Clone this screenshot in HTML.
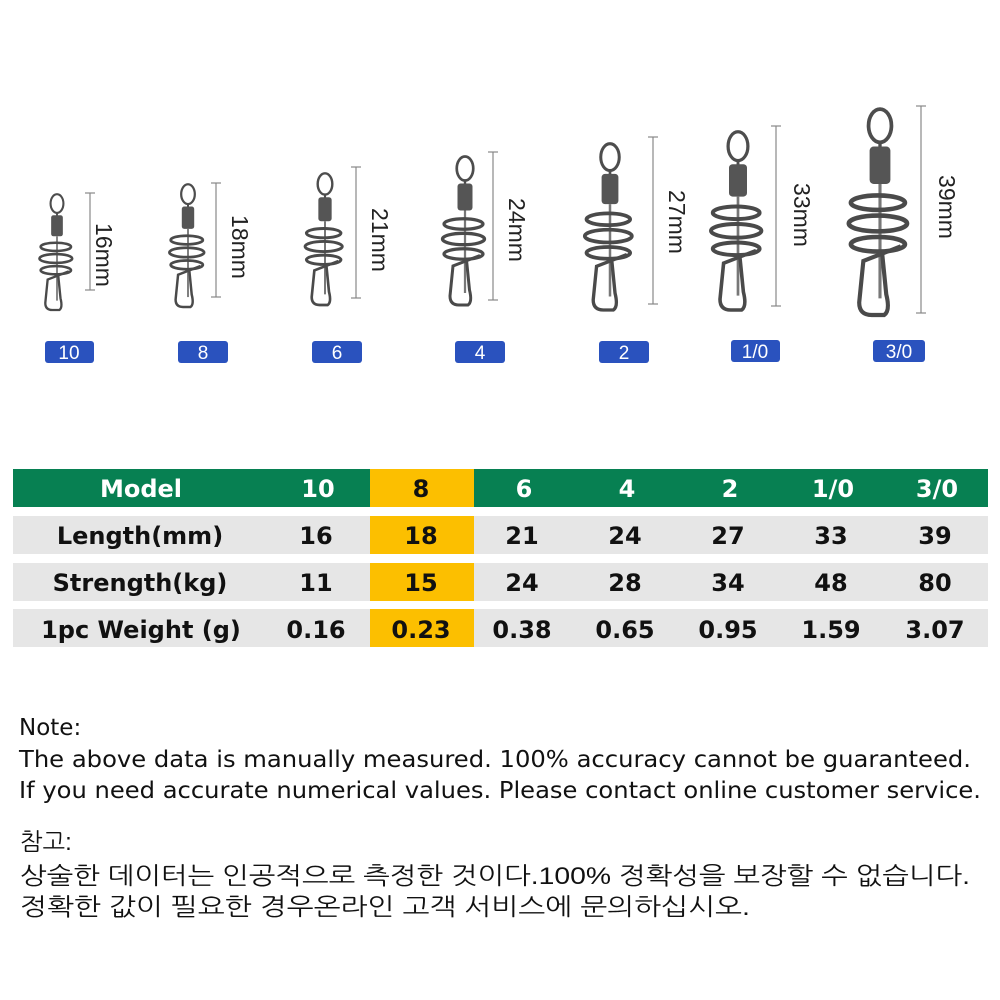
<!DOCTYPE html>
<html><head><meta charset="utf-8"><style>
body{margin:0;background:#fff;width:1000px;height:1000px;overflow:hidden}
svg{display:block}
</style></head><body>
<svg width="1000" height="1000" viewBox="0 0 1000 1000" xmlns="http://www.w3.org/2000/svg">
<defs>
<g id="sw">
  <ellipse cx="0" cy="9" rx="5.5" ry="8" fill="none" stroke="#4d4d4d" stroke-width="1.8"/>
  <line x1="0" y1="17" x2="0" y2="20" stroke="#4d4d4d" stroke-width="1.6"/>
  <rect x="-5" y="19" width="10" height="18" rx="2" fill="#555"/>
  <line x1="0" y1="37" x2="0" y2="92" stroke="#777" stroke-width="1.5"/>
  <ellipse cx="-1" cy="46" rx="13" ry="3.5" fill="none" stroke="#4a4a4a" stroke-width="2.2"/>
  <ellipse cx="-1" cy="56" rx="14" ry="3.8" fill="none" stroke="#4a4a4a" stroke-width="2.2"/>
  <ellipse cx="-1" cy="66" rx="13" ry="3.5" fill="none" stroke="#4a4a4a" stroke-width="2.2"/>
  <path d="M 10 67 L -8 74 L -10 94 Q -10 100 -4 100 L 2 100 Q 5 98 3 90 L 1 70" fill="none" stroke="#4a4a4a" stroke-width="2"/>
</g>
</defs>
<g font-family="Liberation Sans, sans-serif">
<use href="#sw" transform="translate(57,193) scale(1.17)"/>
<use href="#sw" transform="translate(188,183) scale(1.24)"/>
<use href="#sw" transform="translate(325,172) scale(1.33)"/>
<use href="#sw" transform="translate(465,155) scale(1.5)"/>
<use href="#sw" transform="translate(610,142) scale(1.68)"/>
<use href="#sw" transform="translate(738,130) scale(1.8)"/>
<use href="#sw" transform="translate(880,107) scale(2.08)"/>
<g stroke="#888" stroke-width="1.2">
<line x1="90" y1="193" x2="90" y2="290"/><line x1="85" y1="193" x2="95" y2="193"/><line x1="85" y1="290" x2="95" y2="290"/>
<line x1="216" y1="183" x2="216" y2="297"/><line x1="211" y1="183" x2="221" y2="183"/><line x1="211" y1="297" x2="221" y2="297"/>
<line x1="356" y1="167" x2="356" y2="298"/><line x1="351" y1="167" x2="361" y2="167"/><line x1="351" y1="298" x2="361" y2="298"/>
<line x1="493" y1="152" x2="493" y2="300"/><line x1="488" y1="152" x2="498" y2="152"/><line x1="488" y1="300" x2="498" y2="300"/>
<line x1="653" y1="137" x2="653" y2="304"/><line x1="648" y1="137" x2="658" y2="137"/><line x1="648" y1="304" x2="658" y2="304"/>
<line x1="776" y1="126" x2="776" y2="306"/><line x1="771" y1="126" x2="781" y2="126"/><line x1="771" y1="306" x2="781" y2="306"/>
<line x1="921" y1="106" x2="921" y2="313"/><line x1="916" y1="106" x2="926" y2="106"/><line x1="916" y1="313" x2="926" y2="313"/>
</g>
<g font-size="23" fill="#222" text-anchor="middle">
<text transform="translate(96,255) rotate(90)">16mm</text>
<text transform="translate(232,247) rotate(90)">18mm</text>
<text transform="translate(372,240) rotate(90)">21mm</text>
<text transform="translate(509,230) rotate(90)">24mm</text>
<text transform="translate(669,222) rotate(90)">27mm</text>
<text transform="translate(794,215) rotate(90)">33mm</text>
<text transform="translate(939,207) rotate(90)">39mm</text>
</g>
<g fill="#2a52be">
<rect x="45" y="341" width="49" height="22" rx="3"/>
<rect x="178" y="341" width="50" height="22" rx="3"/>
<rect x="312" y="341" width="50" height="22" rx="3"/>
<rect x="455" y="341" width="50" height="22" rx="3"/>
<rect x="599" y="341" width="50" height="22" rx="3"/>
<rect x="731" y="340" width="49" height="22" rx="3"/>
<rect x="873" y="340" width="52" height="22" rx="3"/>
</g>
<g font-size="19" fill="#fff" text-anchor="middle">
<text x="69" y="359">10</text><text x="203" y="359">8</text><text x="337" y="359">6</text>
<text x="480" y="359">4</text><text x="624" y="359">2</text><text x="755" y="358">1/0</text><text x="899" y="358">3/0</text>
</g>
<rect x="13" y="469" width="975" height="38" fill="#078052"/>
<rect x="13" y="516" width="975" height="38" fill="#e6e6e6"/>
<rect x="13" y="563" width="975" height="38" fill="#e6e6e6"/>
<rect x="13" y="609" width="975" height="38" fill="#e6e6e6"/>
<rect x="370" y="469" width="104" height="38" fill="#fcbf00"/>
<rect x="370" y="516" width="104" height="38" fill="#fcbf00"/>
<rect x="370" y="563" width="104" height="38" fill="#fcbf00"/>
<rect x="370" y="609" width="104" height="38" fill="#fcbf00"/>
<g font-family="DejaVu Sans, sans-serif" font-size="24" font-weight="bold" text-anchor="middle">
<g fill="#fff"><text x="141" y="497">Model</text><text x="318" y="497">10</text><text x="524" y="497">6</text><text x="627" y="497">4</text><text x="730" y="497">2</text><text x="833" y="497">1/0</text><text x="937" y="497">3/0</text></g>
<text x="421" y="497" fill="#111">8</text>
<g fill="#111">
<text x="140" y="544">Length(mm)</text><text x="316" y="544">16</text><text x="421" y="544">18</text><text x="522" y="544">21</text><text x="625" y="544">24</text><text x="728" y="544">27</text><text x="831" y="544">33</text><text x="935" y="544">39</text>
<text x="140" y="591">Strength(kg)</text><text x="316" y="591">11</text><text x="421" y="591">15</text><text x="522" y="591">24</text><text x="625" y="591">28</text><text x="728" y="591">34</text><text x="831" y="591">48</text><text x="935" y="591">80</text>
<text x="141" y="638">1pc Weight (g)</text><text x="316" y="638">0.16</text><text x="421" y="638">0.23</text><text x="522" y="638">0.38</text><text x="625" y="638">0.65</text><text x="728" y="638">0.95</text><text x="831" y="638">1.59</text><text x="935" y="638">3.07</text>
</g>
</g>
<g font-family="DejaVu Sans, sans-serif" font-size="23" fill="#111">
<text x="19" y="735">Note:</text>
<text x="19" y="767" textLength="952" lengthAdjust="spacingAndGlyphs">The above data is manually measured. 100% accuracy cannot be guaranteed.</text>
<text x="19" y="798" textLength="962" lengthAdjust="spacingAndGlyphs">If you need accurate numerical values. Please contact online customer service.</text>
</g>
<g font-family="Liberation Sans, NanumGothic, 'Noto Sans CJK KR', sans-serif" font-size="24" fill="#111">
<text x="20" y="850">참고:</text>
<text x="20" y="884" textLength="950" lengthAdjust="spacingAndGlyphs">상술한 데이터는 인공적으로 측정한 것이다.100% 정확성을 보장할 수 없습니다.</text>
<text x="20" y="915" textLength="730" lengthAdjust="spacingAndGlyphs">정확한 값이 필요한 경우온라인 고객 서비스에 문의하십시오.</text>
</g>
</g>
</svg>
</body></html>
